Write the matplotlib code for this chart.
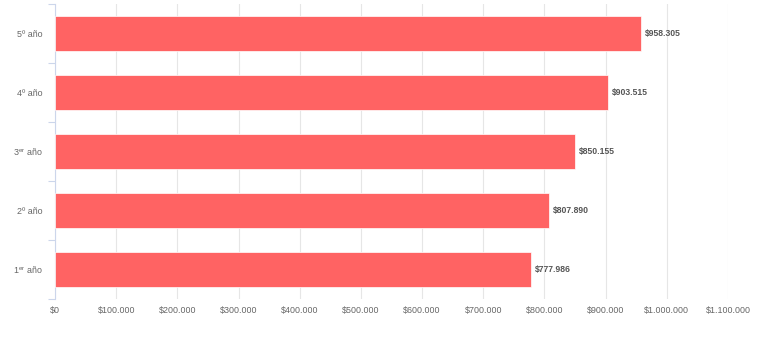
import matplotlib
matplotlib.use("Agg")
import matplotlib.pyplot as plt
from matplotlib.ticker import FuncFormatter

plt.rcParams['font.family'] = ['Liberation Sans', 'DejaVu Sans']
plt.rcParams['mathtext.fontset'] = 'custom'
plt.rcParams['mathtext.rm'] = 'Liberation Sans'

categories = ["1$^{\\mathregular{er}}$ año", "2º año", "3$^{\\mathregular{er}}$ año", "4º año", "5º año"]
values = [777986, 807890, 850155, 903515, 958305]
xticks = [0, 100000, 200000, 300000, 400000, 500000, 600000, 700000, 800000, 900000, 1000000, 1100000]

def money(v):
    return "$" + f"{int(round(v)):,}".replace(",", ".")

W, H = 759, 341
fig = plt.figure(figsize=(W/100, H/100), dpi=100)
ax = fig.add_axes([55/W, 1-299/H, (728-55)/W, (299-4)/H])

ypos = list(range(len(categories)))
ax.barh(ypos, values, height=0.58, color="#ff6363", edgecolor="white", linewidth=0.5, zorder=3)
for y, v in zip(ypos, values):
    ax.text(v + 6000, y, money(v), va="center", ha="left", fontsize=6.2,
            fontweight="bold", color="#555555", zorder=4)

ax.set_xlim(0, 1100000)
ax.set_ylim(-0.5, len(categories)-0.5)
ax.set_xticks(xticks)
ax.xaxis.set_major_formatter(FuncFormatter(lambda v, p: money(v)))
ax.set_yticks(ypos)
ax.set_yticklabels(categories)
ax.set_yticks([i - 0.5 for i in range(len(categories)+1)], minor=True)
ax.tick_params(axis="y", which="major", length=0, pad=9, labelsize=6.4, labelcolor="#666666")
ax.tick_params(axis="y", which="minor", length=5, color="#ccd6eb", width=0.8)
ax.tick_params(axis="x", length=0, pad=5, labelsize=6.4, labelcolor="#666666")
ax.grid(axis="x", color="#e6e6e6", linewidth=0.8, zorder=0)
for s in ["top", "right", "bottom"]:
    ax.spines[s].set_visible(False)
ax.spines["left"].set_color("#ccd6eb")
ax.spines["left"].set_linewidth(0.8)

fig.savefig("out.png", dpi=100)
